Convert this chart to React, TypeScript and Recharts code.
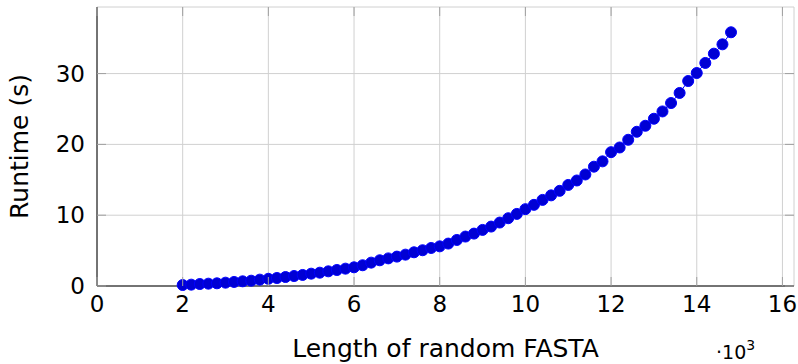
import { CartesianGrid, Line, LineChart, XAxis, YAxis } from 'recharts'

// sequence length in thousands (x axis is scaled by 10^3)
const LENGTHS_K = [
  2.0, 2.2, 2.4, 2.6, 2.8, 3.0, 3.2, 3.4, 3.6, 3.8,
  4.0, 4.2, 4.4, 4.6, 4.8, 5.0, 5.2, 5.4, 5.6, 5.8,
  6.0, 6.2, 6.4, 6.6, 6.8, 7.0, 7.2, 7.4, 7.6, 7.8,
  8.0, 8.2, 8.4, 8.6, 8.8, 9.0, 9.2, 9.4, 9.6, 9.8,
  10.0, 10.2, 10.4, 10.6, 10.8, 11.0, 11.2, 11.4, 11.6, 11.8,
  12.0, 12.2, 12.4, 12.6, 12.8, 13.0, 13.2, 13.4, 13.6, 13.8,
  14.0, 14.2, 14.4, 14.6, 14.8,
]

// runtime in seconds
const RUNTIMES = [
  0.14, 0.19, 0.28, 0.33, 0.38, 0.47, 0.57, 0.66, 0.75, 0.9,
  1.02, 1.13, 1.27, 1.41, 1.56, 1.74, 1.88, 2.07, 2.26, 2.45,
  2.64, 2.93, 3.3, 3.63, 3.9, 4.15, 4.43, 4.76, 5.05, 5.37,
  5.6, 5.99, 6.5, 6.98, 7.4, 7.92, 8.39, 8.96, 9.57, 10.18,
  10.85, 11.46, 12.16, 12.8, 13.44, 14.27, 14.9, 15.75, 16.85, 17.6,
  18.9, 19.56, 20.65, 21.78, 22.63, 23.62, 24.65, 25.84, 27.26, 28.95,
  30.08, 31.5, 32.81, 34.13, 35.83,
]

const X_TICKS = [0, 2, 4, 6, 8, 10, 12, 14, 16]
const Y_TICKS = [0, 10, 20, 30]

const WIDTH = 798
const HEIGHT = 364
const MARGIN = { top: 7, right: 4, bottom: 0, left: 0 }
const Y_AXIS_WIDTH = 97
const X_AXIS_HEIGHT = 78
const PLOT_TOP = MARGIN.top
const PLOT_BOTTOM = HEIGHT - MARGIN.bottom - X_AXIS_HEIGHT
const PLOT_LEFT = MARGIN.left + Y_AXIS_WIDTH
const PLOT_RIGHT = WIDTH - MARGIN.right
const TICK_LEN = 9

const FONT = '"DejaVu Sans", sans-serif'
const TICK_FONT_SIZE = 23
const LABEL_FONT_SIZE = 25
const GRID = '#d0d0d0'
const TICK_MARK = '#a0a0a0'

const rows = LENGTHS_K.map((length, i) => ({ length, runtime: RUNTIMES[i] }))

function XTick({ x, payload }: any) {
  return (
    <g>
      <line x1={x} x2={x} y1={PLOT_BOTTOM} y2={PLOT_BOTTOM - TICK_LEN} stroke={TICK_MARK} />
      <line x1={x} x2={x} y1={PLOT_TOP} y2={PLOT_TOP + TICK_LEN} stroke={TICK_MARK} />
      <text x={x} y={PLOT_BOTTOM + 26} textAnchor="middle" fontFamily={FONT} fontSize={TICK_FONT_SIZE} fill="#000">
        {payload.value}
      </text>
    </g>
  )
}

function YTick({ y, payload }: any) {
  return (
    <g>
      <line x1={PLOT_LEFT} x2={PLOT_LEFT + TICK_LEN} y1={y} y2={y} stroke={TICK_MARK} />
      <line x1={PLOT_RIGHT - TICK_LEN} x2={PLOT_RIGHT} y1={y} y2={y} stroke={TICK_MARK} />
      <text x={PLOT_LEFT - 12} y={y + 8} textAnchor="end" fontFamily={FONT} fontSize={TICK_FONT_SIZE} fill="#000">
        {payload.value}
      </text>
    </g>
  )
}

function XLabel({ viewBox }: any) {
  const cx = viewBox.x + viewBox.width / 2
  return (
    <g fontFamily={FONT} fill="#000">
      <text x={cx} y={357} textAnchor="middle" fontSize={LABEL_FONT_SIZE}>
        Length of random FASTA
      </text>
      <text x={716} y={359} fontSize={19}>
        ·10<tspan dy={-9} fontSize={14}>3</tspan>
      </text>
    </g>
  )
}

function YLabel({ viewBox }: any) {
  const cy = viewBox.y + viewBox.height / 2
  const x = 28
  return (
    <text
      x={x}
      y={cy}
      textAnchor="middle"
      fontFamily={FONT}
      fontSize={LABEL_FONT_SIZE}
      fill="#000"
      transform={`rotate(-90, ${x}, ${cy})`}
    >
      Runtime (s)
    </text>
  )
}

export default function App() {
  return (
    <div style={{ position: 'absolute', left: 0, top: 0, background: '#fff' }}>
      <LineChart width={WIDTH} height={HEIGHT} data={rows} margin={MARGIN}>
        <CartesianGrid stroke={GRID} strokeWidth={1} />
        <XAxis
          type="number"
          dataKey="length"
          domain={[0, 16.27]}
          ticks={X_TICKS}
          height={X_AXIS_HEIGHT}
          tickSize={0}
          tickMargin={0}
          tickLine={false}
          axisLine={{ stroke: '#000' }}
          tick={<XTick />}
          interval={0}
          label={<XLabel />}
        />
        <XAxis
          xAxisId="top"
          orientation="top"
          type="number"
          dataKey="length"
          domain={[0, 16.27]}
          height={0}
          tick={false}
          tickLine={false}
          axisLine={{ stroke: '#000' }}
        />
        <YAxis
          type="number"
          domain={[0, 39.4]}
          ticks={Y_TICKS}
          width={Y_AXIS_WIDTH}
          tickSize={0}
          tickMargin={0}
          tickLine={false}
          axisLine={{ stroke: '#000' }}
          tick={<YTick />}
          interval={0}
          label={<YLabel />}
        />
        <YAxis
          yAxisId="right"
          orientation="right"
          type="number"
          domain={[0, 39.4]}
          width={0}
          tick={false}
          tickLine={false}
          axisLine={{ stroke: '#000' }}
        />
        <Line
          type="linear"
          dataKey="runtime"
          stroke="#0000ff"
          strokeWidth={1}
          dot={{ r: 5.5, fill: '#0000d4', stroke: '#0000ff', strokeWidth: 1 }}
          isAnimationActive={false}
        />
      </LineChart>
    </div>
  )
}
